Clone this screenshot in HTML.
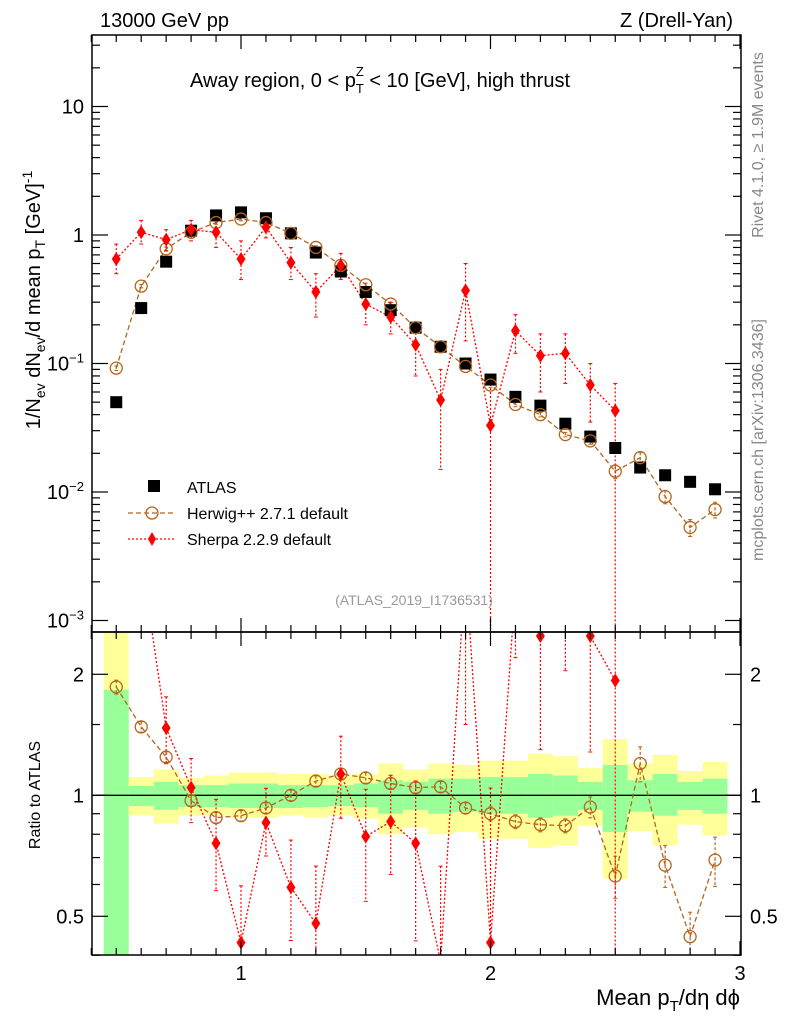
<!DOCTYPE html>
<html><head><meta charset="utf-8"><style>
html,body{margin:0;background:#fff;overflow:hidden;width:786px;height:1024px;}
svg{display:block;font-family:"Liberation Sans",sans-serif;}
</style></head><body>
<svg id="c" width="786" height="1024" viewBox="0 0 786 1024" xmlns="http://www.w3.org/2000/svg">
<defs>
<clipPath id="cm"><rect x="92" y="35" width="649" height="597"/></clipPath>
<clipPath id="cr"><rect x="92" y="632" width="649" height="323"/></clipPath>
</defs>
<g id="bands" clip-path="url(#cr)"></g>
<g id="marks"></g>
<rect x="92" y="35" width="649" height="597" fill="none" stroke="#000" stroke-width="1.5"/>
<rect x="92" y="632" width="649" height="323" fill="none" stroke="#000" stroke-width="1.5"/>
<g id="axes"></g>
<text x="100" y="27" font-size="20">13000 GeV pp</text>
<text x="733" y="27" font-size="20" text-anchor="end">Z (Drell-Yan)</text>
<text x="190" y="87" font-size="20">Away region, 0 &lt; p<tspan font-size="13" dy="6">T</tspan><tspan font-size="13" dx="-8" dy="-17">Z</tspan><tspan dy="11"> &lt; 10 [GeV], high thrust</tspan></text>
<text x="414" y="605" font-size="14" fill="#999" text-anchor="middle">(ATLAS_2019_I1736531)</text>
<text transform="translate(763,145) rotate(-90)" font-size="16" fill="#888" text-anchor="middle">Rivet 4.1.0, ≥ 1.9M events</text>
<text transform="translate(763,440) rotate(-90)" font-size="16" fill="#888" text-anchor="middle">mcplots.cern.ch [arXiv:1306.3436]</text>
<text transform="translate(40,300) rotate(-90)" font-size="20" text-anchor="middle">1/N<tspan font-size="14" dy="5">ev</tspan><tspan dy="-5"> dN</tspan><tspan font-size="14" dy="5">ev</tspan><tspan dy="-5">/d mean p</tspan><tspan font-size="14" dy="5">T</tspan><tspan dy="-5"> [GeV]</tspan><tspan font-size="14" dy="-8">-1</tspan></text>
<text transform="translate(40,795) rotate(-90)" font-size="16" text-anchor="middle">Ratio to ATLAS</text>
<text x="740" y="1005" font-size="22" text-anchor="end">Mean p<tspan font-size="15" dy="6">T</tspan><tspan dy="-6">/dη dϕ</tspan></text>
<g>
<rect x="148" y="480" width="12" height="12" fill="#000"/>
<text x="187" y="493" font-size="16">ATLAS</text>
<line x1="128" y1="513" x2="176" y2="513" stroke="#b5651d" stroke-width="1.3" stroke-dasharray="5,3"/>
<circle cx="152" cy="513" r="6" fill="none" stroke="#b5651d" stroke-width="1.3"/>
<text x="187" y="519" font-size="16">Herwig++ 2.7.1 default</text>
<line x1="128" y1="539" x2="176" y2="539" stroke="#f00" stroke-width="1.3" stroke-dasharray="2,2"/>
<path d="M152,532 L156,539 L152,546 L148,539Z" fill="#f00"/>
<text x="187" y="545" font-size="16">Sherpa 2.2.9 default</text>
</g>
</svg>
<script>
const binCenters=[0.5,0.6,0.7,0.8,0.9,1.0,1.1,1.2,1.3,1.4,1.5,1.6,1.7,1.8,1.9,2.0,2.1,2.2,2.3,2.4,2.5,2.6,2.7,2.8,2.9];
const atlas=[0.05,0.27,0.62,1.08,1.42,1.5,1.35,1.03,0.73,0.52,0.36,0.26,0.19,0.135,0.1,0.075,0.055,0.047,0.034,0.027,0.022,0.0155,0.0135,0.012,0.0105];
const herwig=[0.092,0.4,0.78,1.05,1.25,1.33,1.25,1.03,0.8,0.58,0.41,0.29,0.19,0.135,0.095,0.068,0.048,0.04,0.028,0.025,0.0145,0.0185,0.0092,0.0053,0.0073];
const herwigRelErr=[0.04,0.03,0.03,0.03,0.03,0.03,0.03,0.03,0.03,0.03,0.03,0.03,0.03,0.03,0.03,0.04,0.04,0.04,0.04,0.06,0.12,0.1,0.12,0.15,0.14];
const sherpaX=[0.5,0.6,0.7,0.8,0.9,1.0,1.1,1.2,1.3,1.4,1.5,1.6,1.7,1.8,1.9,2.0,2.1,2.2,2.3,2.4,2.5];
const sherpa=[0.65,1.05,0.92,1.1,1.05,0.65,1.15,0.61,0.36,0.58,0.29,0.23,0.14,0.052,0.37,0.033,0.18,0.115,0.12,0.068,0.043];
const sherpaLo=[0.5,0.85,0.75,0.9,0.8,0.45,0.95,0.45,0.23,0.45,0.2,0.17,0.08,0.015,0.15,0.0005,0.12,0.06,0.07,0.035,0.0005];
const sherpaHi=[0.85,1.3,1.1,1.3,1.35,0.9,1.4,0.8,0.5,0.72,0.38,0.3,0.2,0.09,0.6,0.08,0.24,0.17,0.17,0.1,0.07];
const herwigRatio=[1.86,1.48,1.245,0.97,0.88,0.89,0.93,1.0,1.085,1.13,1.105,1.07,1.045,1.05,0.93,0.90,0.86,0.845,0.84,0.935,0.63,1.2,0.67,0.445,0.69];
const sherpaRatio=[13,3.9,1.47,1.045,0.76,0.43,0.855,0.59,0.48,1.13,0.79,0.86,0.76,0.385,3.7,0.43,3.3,2.49,3.5,2.49,1.93];
const yellowHi=[3,1.11,1.16,1.105,1.12,1.14,1.14,1.13,1.13,1.12,1.13,1.2,1.16,1.2,1.19,1.22,1.22,1.27,1.25,1.17,1.38,1.2,1.26,1.15,1.21];
const greenHi=[1.83,1.055,1.08,1.06,1.06,1.07,1.07,1.06,1.06,1.06,1.07,1.09,1.08,1.1,1.1,1.11,1.11,1.13,1.12,1.08,1.19,1.09,1.13,1.08,1.1];
const greenLo=[0.3,0.94,0.92,0.935,0.935,0.93,0.93,0.93,0.935,0.94,0.935,0.9,0.92,0.9,0.91,0.9,0.9,0.88,0.89,0.92,0.81,0.91,0.89,0.92,0.9];
const yellowLo=[0.3,0.89,0.85,0.89,0.89,0.88,0.88,0.89,0.88,0.89,0.875,0.8,0.83,0.8,0.81,0.78,0.78,0.74,0.75,0.84,0.62,0.815,0.75,0.845,0.795];
const mainTicks=[0.001,0.01,0.1,1,10];
const ratioTicks=[0.5,1,2];
const xTicks=[1,2,3];

const NS='http://www.w3.org/2000/svg';
const X=v=>91.3+(v-0.4)*249.5;
const Y=v=>235-128.5*Math.log10(v);
const R=v=>795.3-121*Math.log2(v);
function mk(t,a,p){const e=document.createElementNS(NS,t);for(const k in a)e.setAttribute(k,a[k]);(p||document.getElementById('marks')).appendChild(e);return e;}
const bands=document.getElementById('bands'),axes=document.getElementById('axes');
const gm=mk('g',{'clip-path':'url(#cm)'});


const gr=mk('g',{'clip-path':'url(#cr)'});


binCenters.forEach((c,i)=>{
  const x0=X(c-0.05),w=X(c+0.05)-x0;
  let e=mk('rect',{x:x0,y:R(yellowHi[i]),width:w,height:R(yellowLo[i])-R(yellowHi[i]),fill:'#ffff99'},bands);
  
  
  e=mk('rect',{x:x0,y:R(greenHi[i]),width:w,height:R(greenLo[i])-R(greenHi[i]),fill:'#99ff99'},bands);
  
  
});
mk('line',{x1:92,x2:741,y1:R(1),y2:R(1),stroke:'#000','stroke-width':1.3},gr);
function errbar(g,x,y1,y2,col,dash){mk('line',{x1:x,x2:x,y1:y1,y2:y2,stroke:col,'stroke-width':1.2,'stroke-dasharray':dash},g);
 mk('line',{x1:x-2,x2:x+2,y1:y1,y2:y1,stroke:col,'stroke-width':1},g);mk('line',{x1:x-2,x2:x+2,y1:y2,y2:y2,stroke:col,'stroke-width':1},g);}
function diamond(g,x,y){const e=mk('path',{d:`M${x},${y-7}L${x+4.5},${y}L${x},${y+7}L${x-4.5},${y}Z`,fill:'#f00'},g);}
function circ(g,x,y){const e=mk('circle',{cx:x,cy:y,r:6,fill:'none',stroke:'#b5651d','stroke-width':1.3},g);}
mk('polyline',{points:binCenters.map((c,i)=>X(c)+','+Y(herwig[i])).join(' '),fill:'none',stroke:'#b5651d','stroke-width':1.3,'stroke-dasharray':'5,3'},gm);
binCenters.forEach((c,i)=>{errbar(gm,X(c),Y(herwig[i]*(1+herwigRelErr[i])),Y(herwig[i]*(1-herwigRelErr[i])),'#b5651d','3,2');});
mk('polyline',{points:sherpaX.map((c,i)=>X(c)+','+Y(sherpa[i])).join(' '),fill:'none',stroke:'#f00','stroke-width':1.3,'stroke-dasharray':'2,2'},gm);
sherpaX.forEach((c,i)=>errbar(gm,X(c),Y(sherpaHi[i]),Y(sherpaLo[i]),'#f00','2,2'));
binCenters.forEach((c,i)=>{const e=mk('rect',{x:X(c)-6,y:Y(atlas[i])-6,width:12,height:12,fill:'#000'},gm);});
binCenters.forEach((c,i)=>circ(gm,X(c),Y(herwig[i])));
sherpaX.forEach((c,i)=>diamond(gm,X(c),Y(sherpa[i])));
mk('polyline',{points:binCenters.map((c,i)=>X(c)+','+R(herwigRatio[i])).join(' '),fill:'none',stroke:'#b5651d','stroke-width':1.3,'stroke-dasharray':'5,3'},gr);
binCenters.forEach((c,i)=>errbar(gr,X(c),R(herwigRatio[i]*(1+herwigRelErr[i])),R(herwigRatio[i]*(1-herwigRelErr[i])),'#b5651d','3,2'));
mk('polyline',{points:sherpaX.map((c,i)=>X(c)+','+R(sherpaRatio[i])).join(' '),fill:'none',stroke:'#f00','stroke-width':1.3,'stroke-dasharray':'2,2'},gr);
sherpaX.forEach((c,i)=>errbar(gr,X(c),R(sherpaRatio[i]*sherpaHi[i]/sherpa[i]),R(sherpaRatio[i]*sherpaLo[i]/sherpa[i]),'#f00','2,2'));
binCenters.forEach((c,i)=>circ(gr,X(c),R(herwigRatio[i])));
sherpaX.forEach((c,i)=>diamond(gr,X(c),R(sherpaRatio[i])));
function tk(x1,y1,x2,y2){mk('line',{x1,y1,x2,y2,stroke:'#000','stroke-width':1.2},axes);}
for(let v=0.4;v<=3.001;v+=0.1){const x=X(v),maj=Math.abs(v-Math.round(v))<0.01;const L=maj?14:7;
 tk(x,632,x,632-L);tk(x,35,x,35+L);tk(x,955,x,955-L);tk(x,632,x,632+L);}
xTicks.forEach(v=>{const e=mk('text',{x:X(v),y:980,'font-size':20,'text-anchor':'middle'},axes);e.textContent=v;});
for(let d=-3;d<=1;d++){for(let m=1;m<10;m++){const v=m*Math.pow(10,d),y=Y(v);if(y<35||y>632)continue;const L=m==1?16:8;tk(92,y,92+L,y);tk(741,y,741-L,y);}}
mainTicks.forEach((v,i)=>{const e=mk('text',{x:84,y:Y(v)+7,'font-size':20,'text-anchor':'end'},axes);
 if(v>=1)e.textContent=v;else{e.textContent='10';const s=document.createElementNS(NS,'tspan');s.setAttribute('font-size','13');s.setAttribute('dy','-8');s.textContent='\u2212'+Math.round(-Math.log10(v));e.appendChild(s);}
 });
[0.4,0.5,0.6,0.7,0.8,0.9,1,1.5,2].forEach(v=>{const y=R(v);const L=ratioTicks.includes(v)?16:8;tk(92,y,92+L,y);tk(741,y,741-L,y);});
ratioTicks.forEach(v=>{let e=mk('text',{x:84,y:R(v)+7,'font-size':20,'text-anchor':'end'},axes);e.textContent=v;
 e=mk('text',{x:750,y:R(v)+7,'font-size':20},axes);e.textContent=v;});
</script>
</body></html>
